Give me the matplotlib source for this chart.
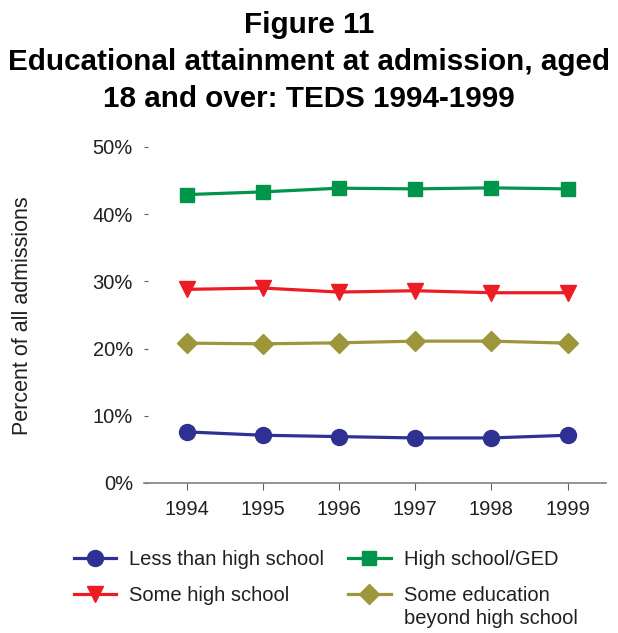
import matplotlib
matplotlib.use('Agg')
import matplotlib.pyplot as plt
from matplotlib.ticker import FuncFormatter

plt.rcParams['font.family'] = ['Liberation Sans', 'DejaVu Sans']

# colours
blue = '#2E3192'
green = '#00954A'
red = '#ED1C24'
olive = '#9D963A'
txt = '#231F20'

years = [1994, 1995, 1996, 1997, 1998, 1999]
less_hs = [7.6, 7.1, 6.9, 6.7, 6.7, 7.1]
some_hs = [28.8, 29.0, 28.4, 28.6, 28.3, 28.3]
hs_ged = [42.9, 43.3, 43.85, 43.75, 43.9, 43.75]
beyond_hs = [20.8, 20.7, 20.85, 21.1, 21.1, 20.8]

title_lines = ['Figure 11',
               'Educational attainment at admission, aged',
               '18 and over: TEDS 1994-1999']

fig = plt.figure(figsize=(6.18, 6.33), dpi=100)
ax = fig.add_axes([0.233, 0.237, 0.747, 0.531])

l1, = ax.plot(years, less_hs, color=blue, lw=2.3, marker='o', ms=11.5,
              label='Less than high school')
l2, = ax.plot(years, some_hs, color=red, lw=2.3, marker='v', ms=11,
              label='Some high school')
l3, = ax.plot(years, hs_ged, color=green, lw=2.3, marker='s', ms=10,
              label='High school/GED')
l4, = ax.plot(years, beyond_hs, color=olive, lw=2.3, marker='D', ms=10,
              label='Some education')

ax.set_xlim(1993.44, 1999.5)
ax.set_ylim(0, 50)
ax.set_xticks(years)
ax.set_yticks(range(0, 51, 10))
ax.yaxis.set_major_formatter(FuncFormatter(lambda v, p: f'{v:.0f}%'))

for s in ['left', 'top', 'right']:
    ax.spines[s].set_visible(False)
ax.spines['bottom'].set_color('#808080')
ax.spines['bottom'].set_linewidth(1.2)
ax.tick_params(axis='y', direction='in', length=3, width=0.8, color='#606060',
               labelsize=14.5, labelcolor=txt, pad=8)
ax.tick_params(axis='x', direction='out', length=5, width=0.8, color='#606060',
               labelsize=14.5, labelcolor=txt, pad=7)

fig.text(0.037, 0.502, 'Percent of all admissions', rotation=90, fontsize=15.5,
         color=txt, ha='center', va='center')

# title, one line at a time so the spacing can follow the original
for line, ypx in zip(title_lines, [33, 70.5, 107]):
    fig.text(0.5, 1 - ypx / 633, line, ha='center', va='baseline',
             fontsize=21.3, fontweight='bold')

leg = fig.legend(handles=[l1, l2, l3, l4], loc='center left',
                 bbox_to_anchor=(0.09, 0.088), ncol=2, frameon=False,
                 fontsize=14.5, handlelength=2.1, columnspacing=1.2,
                 handletextpad=0.65, labelspacing=0.85, labelcolor=txt)

# second line of the last legend label, put right under its first line
fig.canvas.draw()
t = leg.get_texts()[3]
bb = t.get_window_extent().transformed(fig.transFigure.inverted())
fig.text(bb.x0, bb.y0 - 0.006, 'beyond high school', ha='left', va='top',
         fontsize=14.5, color=txt)

fig.savefig('out.png', dpi=100)
